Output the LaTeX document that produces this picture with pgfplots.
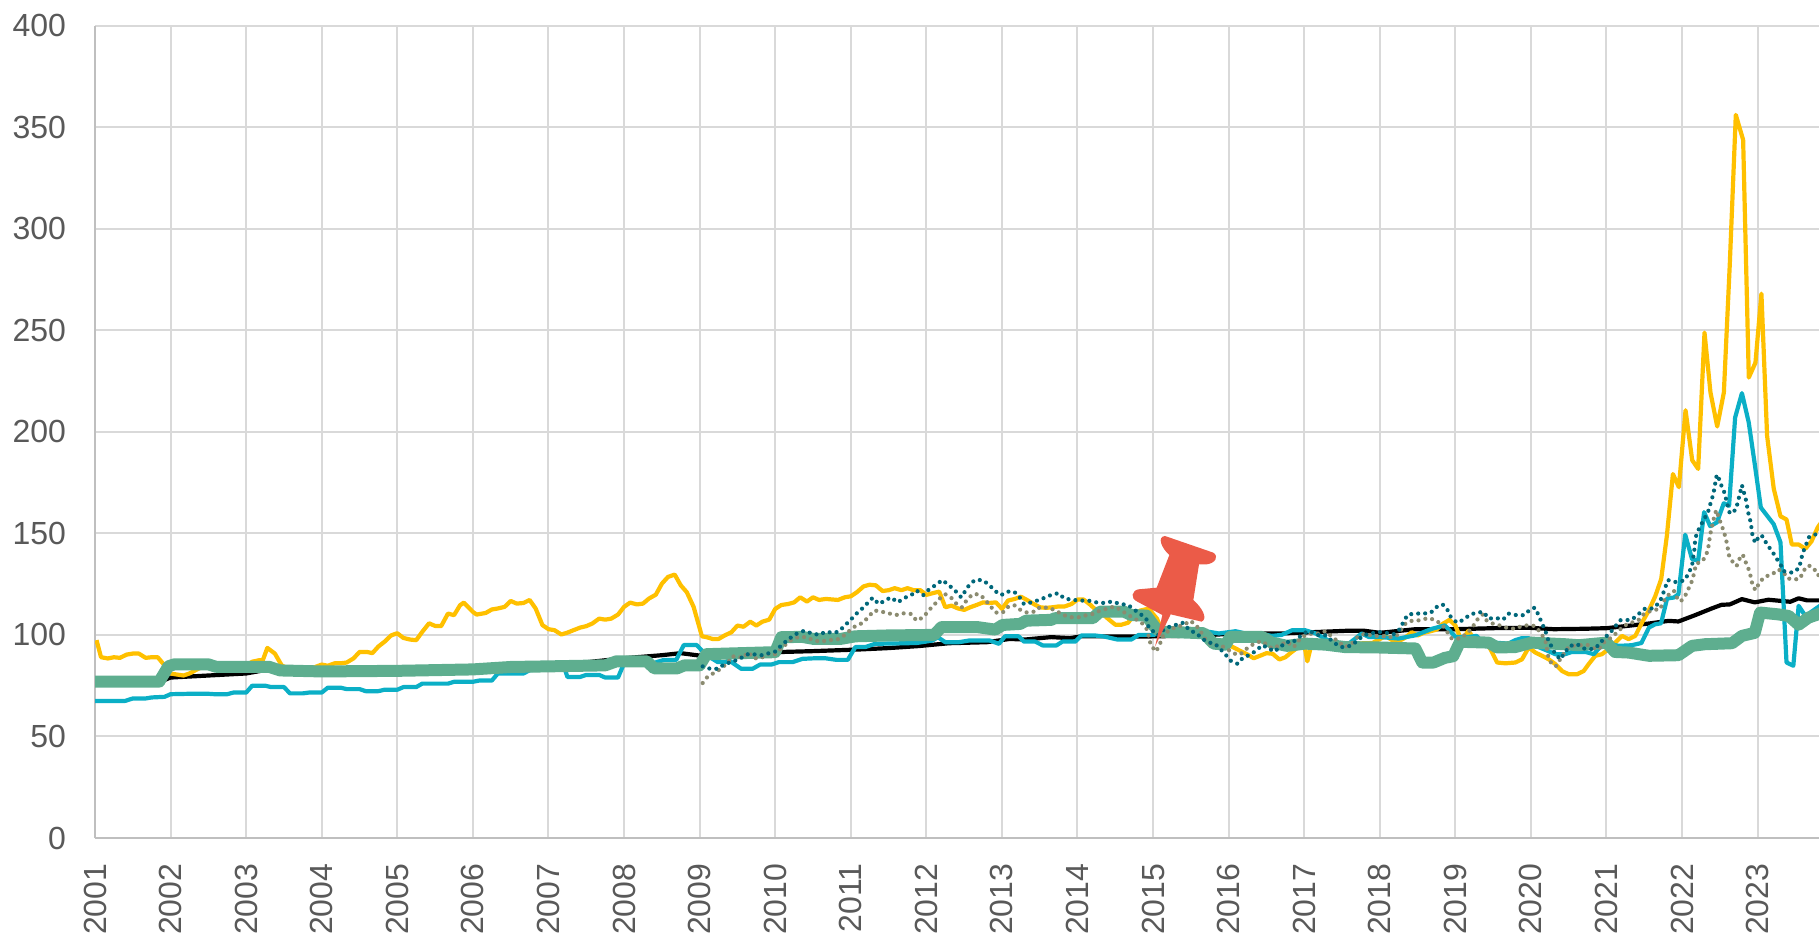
\documentclass[border=0pt]{standalone}
\usepackage{fontspec}
\setmainfont{Liberation Sans}
\usepackage{pgfplots}
\pgfplotsset{compat=1.18}
\definecolor{cyel}{HTML}{FFC000}
\definecolor{ccya}{HTML}{0BAFC6}
\definecolor{cgre}{HTML}{5EAE8F}
\definecolor{cdar}{HTML}{00677A}
\definecolor{cgry}{HTML}{8B8B70}
\definecolor{cgrid}{HTML}{D9D9D9}
\definecolor{caxis}{HTML}{BFBFBF}
\definecolor{ctxt}{HTML}{595959}
\definecolor{cpin}{HTML}{EB5B48}
\begin{document}
\begin{tikzpicture}
\path[use as bounding box] (0,0) rectangle (909.5pt,467pt);
\begin{axis}[
  at={(47.5pt,48pt)}, anchor=south west,
  scale only axis, width=862pt, height=406.25pt,
  xmin=2001, xmax=2023.81, ymin=0, ymax=400,
  xtick={2001,2002,...,2023}, ytick={0,50,...,400},
  grid=major, grid style={cgrid,line width=1pt},
  axis x line*=bottom, axis y line*=left,
  axis line style={-,caxis,line width=1pt},
  major tick length=0pt,
  tick label style={font=\fontsize{16}{19}\selectfont,text=ctxt},
  /pgf/number format/assume math mode=true,
  /pgf/number format/1000 sep={},
  xticklabel style={rotate=90,anchor=east,yshift=0pt,xshift=-9.3pt,/pgf/number format/fixed},
  yticklabel style={anchor=east,xshift=-11pt},
  every axis plot/.append style={line join=round,mark=none},
]
% black
\addplot[black,line width=2.1pt] coordinates {(2001,77)(2001.9,77.5)(2002,79)(2002.5,80)(2003,81)(2003.3,83)(2003.6,82.5)(2004,82)(2005,82.5)(2006,84)(2007,86)(2007.5,86.5)(2008,88.5)(2008.5,90)(2008.75,91)(2009,89.8)(2009.5,90.5)(2010,91.5)(2010.5,92)(2011.1,92.8)(2011.5,93.5)(2011.9,94.5)(2012.3,95.9)(2012.8,96.4)(2013.1,98)(2013.3,97.7)(2013.65,98.9)(2013.9,98.4)(2014.05,99.3)(2014.9,99.2)(2015.65,99.7)(2016,100.5)(2016.7,100.7)(2017.55,102)(2017.8,102)(2018,101)(2018.47,102.8)(2019,102.8)(2019.6,103.4)(2019.97,103.5)(2020.3,102.8)(2020.7,103)(2021.0,103.3)(2021.56,105.6)(2021.82,106.9)(2021.95,106.6)(2022.17,109.7)(2022.39,113)(2022.52,114.8)(2022.63,115)(2022.79,117.6)(2022.96,116)(2023.14,117.3)(2023.43,116.3)(2023.54,118)(2023.65,117)(2023.85,117)};
% yellow
\addplot[cyel,line width=2.1pt] coordinates {(2001.02,97.4)(2001.08,89)(2001.17,88.4)(2001.25,89)(2001.33,88.7)(2001.42,90.3)(2001.5,90.8)(2001.58,90.8)(2001.67,88.7)(2001.75,89)(2001.83,89)(2001.92,85)(2002,81)(2002.08,80.5)(2002.17,80)(2002.25,81)(2002.33,82.6)(2002.42,84.3)(2002.5,84)(2002.75,84)(2003,85)(2003.08,86.8)(2003.17,87.5)(2003.22,87.5)(2003.28,93.6)(2003.38,90.8)(2003.47,85)(2003.58,83)(2003.7,83)(2003.78,84)(2003.9,84)(2004,85.4)(2004.08,84.8)(2004.17,86)(2004.25,86)(2004.33,86.4)(2004.42,88.4)(2004.5,91.6)(2004.6,91.6)(2004.67,91)(2004.75,94.3)(2004.83,96.6)(2004.92,99.8)(2005,100.8)(2005.08,98.5)(2005.17,97.7)(2005.25,97.4)(2005.33,101.5)(2005.42,105.7)(2005.5,104.4)(2005.58,104.3)(2005.67,110.5)(2005.75,109.7)(2005.83,114.6)(2005.88,115.9)(2006,111.3)(2006.05,110)(2006.17,110.8)(2006.25,112.5)(2006.33,113)(2006.42,113.8)(2006.5,116.7)(2006.58,115.4)(2006.67,115.7)(2006.75,117.2)(2006.83,113)(2006.92,104.8)(2007,102.8)(2007.08,102.3)(2007.17,100.2)(2007.25,101.1)(2007.33,102.3)(2007.42,103.6)(2007.5,104.3)(2007.58,105.6)(2007.67,108)(2007.75,107.5)(2007.83,108)(2007.92,110)(2008,113.8)(2008.08,115.9)(2008.17,115)(2008.25,115.4)(2008.33,117.9)(2008.42,119.8)(2008.5,125.2)(2008.58,128.5)(2008.67,129.7)(2008.75,124.4)(2008.83,121)(2008.92,113.8)(2009.03,99.3)(2009.1,98.8)(2009.17,98)(2009.25,98)(2009.33,99.7)(2009.42,101.3)(2009.5,104.6)(2009.58,104)(2009.67,106.5)(2009.75,104.6)(2009.83,106.5)(2009.92,107.5)(2010,112.8)(2010.08,114.7)(2010.17,115.2)(2010.25,116)(2010.33,118.5)(2010.42,116.4)(2010.5,118.5)(2010.58,117.2)(2010.67,117.7)(2010.83,117.2)(2010.92,118.5)(2011,119)(2011.08,121)(2011.17,123.9)(2011.25,124.7)(2011.33,124.4)(2011.42,121.6)(2011.5,122)(2011.58,123)(2011.67,122)(2011.75,123)(2011.83,122)(2011.92,122)(2012,119.7)(2012.08,120.5)(2012.17,121.3)(2012.25,113.6)(2012.33,114.4)(2012.42,113)(2012.5,112.3)(2012.58,113.6)(2012.67,114.8)(2012.75,116)(2012.83,115.7)(2012.92,116)(2013,112.8)(2013.08,116.9)(2013.17,117.7)(2013.25,118.8)(2013.33,117.2)(2013.42,115.2)(2013.5,113.6)(2013.58,113.3)(2013.67,113.6)(2013.75,114)(2013.83,114)(2013.92,115.2)(2014,117.4)(2014.08,117.4)(2014.17,114.8)(2014.25,112)(2014.33,110.3)(2014.42,107.4)(2014.5,105)(2014.58,105)(2014.67,106)(2014.75,110)(2014.83,112)(2014.94,112.9)(2015.05,108)(2015.12,102)(2015.5,100.5)(2015.75,98)(2015.92,96)(2016,95)(2016.08,93.5)(2016.17,91.8)(2016.25,90.3)(2016.33,88.5)(2016.42,89.8)(2016.5,91)(2016.58,90.7)(2016.67,87.9)(2016.75,89)(2016.83,91.5)(2016.92,94)(2017,95)(2017.04,87)(2017.08,93)(2017.17,96.4)(2017.5,95.5)(2017.9,96)(2018,98)(2018.08,99.3)(2018.17,97.2)(2018.25,96.9)(2018.33,98.5)(2018.42,101.3)(2018.5,99.7)(2018.58,101)(2018.67,101.8)(2018.75,102.6)(2018.83,105.4)(2018.92,107.4)(2019,104.6)(2019.08,97)(2019.17,102)(2019.25,98)(2019.374,97)(2019.463,93)(2019.551,86.4)(2019.661,86)(2019.793,86.4)(2019.881,88)(2019.969,93.8)(2020.057,91.3)(2020.145,89.7)(2020.233,88)(2020.322,85.6)(2020.41,82.2)(2020.498,80.6)(2020.608,80.6)(2020.696,82.2)(2020.762,85.6)(2020.85,89.7)(2020.938,90.5)(2021.026,93)(2021.115,96.2)(2021.203,99.5)(2021.291,97.9)(2021.379,99.5)(2021.467,106)(2021.555,111.8)(2021.643,119)(2021.722,127.5)(2021.797,148.8)(2021.877,179.2)(2021.956,172.7)(2022.044,210.6)(2022.132,186)(2022.211,181.7)(2022.295,248.8)(2022.374,219.3)(2022.463,202.6)(2022.551,219.3)(2022.63,283)(2022.709,356)(2022.806,343.7)(2022.881,226.7)(2022.969,234)(2023.048,268)(2023.123,198)(2023.211,172)(2023.3,158.4)(2023.38,156.8)(2023.45,144.5)(2023.54,144.5)(2023.63,142.4)(2023.71,146)(2023.79,152.7)(2023.85,156)};
% cyan
\addplot[ccya,line width=2.1pt] coordinates {(2001,67.5)(2001.4,67.5)(2001.5,68.7)(2001.67,68.7)(2001.75,69.2)(2001.92,69.5)(2002,70.8)(2002.25,71)(2002.5,71)(2002.58,70.8)(2002.75,70.8)(2002.83,71.6)(2003,71.6)(2003.08,75)(2003.25,75)(2003.33,74.3)(2003.5,74.3)(2003.58,71.2)(2003.75,71.2)(2003.83,71.6)(2004,71.6)(2004.08,74)(2004.25,74)(2004.33,73.3)(2004.5,73.3)(2004.58,72.3)(2004.75,72.3)(2004.83,73)(2005,73)(2005.08,74.3)(2005.25,74.3)(2005.33,76)(2005.67,76)(2005.75,76.9)(2006,76.9)(2006.08,77.5)(2006.25,77.5)(2006.33,81)(2006.67,81)(2006.75,82.6)(2007,83.5)(2007.2,85)(2007.25,79.3)(2007.42,79.3)(2007.5,80.3)(2007.67,80.3)(2007.75,79)(2007.92,79)(2008,86)(2008.4,86)(2008.43,86.6)(2008.53,87.7)(2008.69,87.7)(2008.79,95)(2008.96,95)(2009.09,90)(2009.24,86.6)(2009.34,86.6)(2009.39,87.4)(2009.55,83.3)(2009.7,83.3)(2009.8,85.4)(2009.95,85.4)(2010.05,86.6)(2010.23,86.6)(2010.36,88.2)(2010.53,88.5)(2010.66,88.5)(2010.81,87.7)(2010.96,87.7)(2011.06,94)(2011.19,94)(2011.32,95.6)(2011.87,96)(2012.08,97.2)(2012.15,98.9)(2012.25,96.4)(2012.43,96.4)(2012.56,97.2)(2012.84,97.2)(2012.96,95.6)(2013.04,99.3)(2013.22,99.3)(2013.29,96.7)(2013.44,96.7)(2013.54,94.8)(2013.72,94.8)(2013.8,96.7)(2013.97,96.7)(2014.05,99.7)(2014.23,99.7)(2014.35,99.2)(2014.53,97.7)(2014.71,97.7)(2014.81,100)(2015.01,100)(2015.12,102)(2015.74,101.5)(2015.87,100.7)(2016.09,101.8)(2016.22,100.7)(2016.4,100.7)(2016.57,99.5)(2016.7,100)(2016.84,102.3)(2017.01,102.3)(2017.15,100.7)(2017.28,98)(2017.41,95.7)(2017.59,95.7)(2017.76,100.7)(2017.85,99)(2017.98,99)(2018.25,98.2)(2018.47,99.8)(2018.69,103)(2018.86,104.7)(2019,99)(2019.17,99)(2019.28,99.5)(2019.35,96.6)(2019.7,95.7)(2019.79,97.4)(2019.88,98.4)(2019.97,98.4)(2020.06,94.6)(2020.23,92)(2020.32,90.5)(2020.45,90.5)(2020.54,91.6)(2020.72,91.6)(2020.83,90.5)(2020.96,96)(2021.16,94.6)(2021.33,94.9)(2021.46,96)(2021.56,103.6)(2021.64,105.2)(2021.72,105.7)(2021.8,117.9)(2021.89,118.4)(2021.95,120)(2022.04,149.3)(2022.13,137.3)(2022.21,136.5)(2022.29,160.4)(2022.37,153.5)(2022.46,155.4)(2022.55,164.8)(2022.62,163.6)(2022.7,207)(2022.79,219)(2022.88,204.6)(2022.96,184)(2023.04,162.7)(2023.21,154.5)(2023.3,145.6)(2023.38,86.4)(2023.47,84.8)(2023.54,114.3)(2023.63,109.3)(2023.79,113.5)(2023.85,115)};
% green
\addplot[cgre,line width=6pt] coordinates {(2001,77)(2001.85,77)(2001.97,84.5)(2002.05,85.5)(2002.5,85.5)(2002.6,84.3)(2003.3,84.3)(2003.45,82.5)(2004,82)(2005,82.3)(2006,83)(2006.5,84.2)(2007,84.5)(2007.75,85)(2007.9,87)(2008.3,87)(2008.4,83.5)(2008.7,83.5)(2008.8,85)(2009,85)(2009.09,90.5)(2010,91.5)(2010.08,98.9)(2010.36,99)(2010.51,98)(2010.86,98)(2011.06,99.3)(2011.47,99.7)(2012.1,100)(2012.2,103.8)(2012.68,103.8)(2012.91,102.6)(2013.01,104.9)(2013.24,105.4)(2013.32,107)(2013.65,107.4)(2013.7,108.2)(2014.2,108.2)(2014.3,111.5)(2014.61,111.5)(2014.71,109.8)(2014.91,109.5)(2015.04,103)(2015.11,101.6)(2015.67,100.8)(2015.8,95.7)(2015.96,95.2)(2016.02,99)(2016.44,99)(2016.57,96.2)(2016.77,94.6)(2017.01,95.7)(2017.28,95.2)(2017.54,94)(2017.98,93.8)(2018.47,93.3)(2018.56,86.4)(2018.71,86.4)(2018.86,88.7)(2018.97,89.5)(2019.06,96.6)(2019.44,96.2)(2019.55,93.8)(2019.79,94)(2019.96,95.7)(2020.01,96.2)(2020.45,95.4)(2020.63,94.9)(2021,96.2)(2021.11,91.6)(2021.29,91.3)(2021.56,89.7)(2021.95,90)(2022.13,94.6)(2022.3,95.4)(2022.66,95.9)(2022.79,99.5)(2022.96,101)(2023.03,111)(2023.27,110.1)(2023.41,109.3)(2023.54,105)(2023.67,108.5)(2023.79,110)(2023.85,111)};
% grey dotted
\addplot[cgry,line width=2.1pt,line cap=round,dash pattern=on 0pt off 3.5pt] coordinates {(2009.04,76.3)(2009.1,79.2)(2009.19,81.3)(2009.28,83.3)(2009.38,86.6)(2009.42,89.4)(2009.51,89.4)(2009.57,88.5)(2009.64,91.5)(2009.72,88.5)(2009.81,88.5)(2009.9,90.7)(2009.98,90)(2010.1,94)(2010.2,97.2)(2010.3,98.9)(2010.41,98.9)(2010.51,97.2)(2010.61,96.7)(2010.71,97.5)(2010.81,97.5)(2010.91,99.7)(2011,102.6)(2011.07,104.6)(2011.16,105.9)(2011.24,109.2)(2011.31,112)(2011.39,111.6)(2011.5,110.6)(2011.6,109.8)(2011.7,110.6)(2011.8,110.3)(2011.87,107)(2011.96,108.7)(2012.03,112)(2012.1,114.7)(2012.18,118)(2012.25,120)(2012.33,118.2)(2012.4,115.2)(2012.47,113.6)(2012.53,116.9)(2012.61,120)(2012.7,120)(2012.77,117.7)(2012.85,114)(2012.92,111)(2013.01,111)(2013.07,113.6)(2013.16,114.7)(2013.24,112.4)(2013.33,111)(2013.44,111.5)(2013.5,113.6)(2013.62,113.3)(2013.71,112)(2013.81,109.8)(2013.91,108.7)(2014.02,108.7)(2014.13,109.8)(2014.2,110.3)(2014.3,112)(2014.4,113)(2014.49,114)(2014.58,112)(2014.67,109.8)(2014.76,107.9)(2014.85,105.9)(2014.92,102.6)(2014.97,94.8)(2015.04,91.8)(2015.09,95.6)(2015.14,100.5)(2015.29,103.8)(2015.41,104.9)(2015.49,107)(2015.57,104.7)(2015.64,101)(2015.69,97.9)(2015.78,94.9)(2015.89,94.9)(2015.98,93)(2016.07,90.8)(2016.15,90.3)(2016.23,93)(2016.32,95.3)(2016.42,96.9)(2016.51,95.3)(2016.57,93.3)(2016.66,94.6)(2016.77,96.6)(2016.86,94)(2016.93,97.4)(2017,99.5)(2017.1,100.7)(2017.19,100.7)(2017.28,101.8)(2017.37,99)(2017.44,96.9)(2017.54,94)(2017.63,95.7)(2017.72,99.5)(2017.81,100.7)(2017.9,99.5)(2018.03,99.5)(2018.11,98.7)(2018.22,99.5)(2018.34,105.6)(2018.42,106.9)(2018.53,107.2)(2018.64,108.3)(2018.74,107.2)(2018.83,104.7)(2018.89,101.5)(2018.95,98.2)(2019.06,98.2)(2019.15,100.7)(2019.22,103.4)(2019.28,107.2)(2019.36,110)(2019.41,107.2)(2019.49,105.6)(2019.58,104.7)(2019.67,103.6)(2019.78,103)(2019.88,104.4)(2019.96,104.7)(2020.05,104.4)(2020.13,101)(2020.19,97)(2020.23,88.9)(2020.28,85.2)(2020.33,84.7)(2020.39,88.3)(2020.48,93.3)(2020.53,94.6)(2020.65,94.9)(2020.75,95)(2020.85,93)(2020.9,93)(2020.96,96.2)(2021.05,98.4)(2021.15,101.5)(2021.22,104.4)(2021.33,106)(2021.42,107.2)(2021.49,110.2)(2021.61,112.3)(2021.71,112.6)(2021.74,116)(2021.82,119.7)(2021.89,121.7)(2021.93,118.4)(2021.98,116.4)(2022.05,120)(2022.09,123.3)(2022.14,127.4)(2022.16,131.4)(2022.19,135.2)(2022.25,135.8)(2022.3,138)(2022.34,141.7)(2022.37,149.4)(2022.42,157.6)(2022.45,161.4)(2022.51,155)(2022.55,151)(2022.58,147)(2022.6,143.2)(2022.62,139)(2022.67,135.8)(2022.72,133.9)(2022.76,137.6)(2022.8,139.6)(2022.84,135.8)(2022.88,132.2)(2022.91,128.2)(2022.93,124.5)(2022.97,122)(2023.02,125.7)(2023.09,128.6)(2023.19,129.8)(2023.27,132.2)(2023.34,131)(2023.39,127.8)(2023.49,127.3)(2023.56,127.7)(2023.6,131.4)(2023.67,134.2)(2023.74,133)(2023.79,129.3)(2023.85,130)};
% dark dotted
\addplot[cdar,line width=2.1pt,line cap=round,dash pattern=on 0pt off 3.5pt] coordinates {(2009.04,84.5)(2009.14,83.3)(2009.24,83.3)(2009.32,85.4)(2009.5,87.7)(2009.65,90.7)(2009.82,90)(2010,91.8)(2010.08,94.8)(2010.18,98)(2010.28,100.5)(2010.38,102)(2010.48,100.8)(2010.58,100)(2010.67,101.6)(2010.76,101)(2010.84,101.6)(2010.92,104.6)(2011,107.5)(2011.07,110.3)(2011.16,113.3)(2011.29,118.3)(2011.37,115.2)(2011.53,118.5)(2011.62,116)(2011.71,118.2)(2011.8,119.6)(2011.87,121.8)(2011.96,119.6)(2012.04,122.6)(2012.13,124.7)(2012.21,127)(2012.29,124.7)(2012.38,121.8)(2012.46,118.5)(2012.56,124.2)(2012.64,127)(2012.74,127)(2012.83,124.7)(2012.9,121.8)(2012.99,119.6)(2013.07,121.3)(2013.16,121.3)(2013.24,118.2)(2013.29,115.2)(2013.39,116)(2013.49,117.2)(2013.58,118.5)(2013.67,120)(2013.75,120.5)(2013.82,118)(2013.92,117.3)(2014.03,116.9)(2014.14,116.9)(2014.25,116)(2014.35,115.7)(2014.45,116.4)(2014.57,115.2)(2014.67,114.7)(2014.75,112.4)(2014.83,110.3)(2014.91,107.9)(2014.94,103.8)(2015.06,99.7)(2015.16,103.3)(2015.27,104.6)(2015.39,105.9)(2015.49,102)(2015.57,101)(2015.64,98.4)(2015.72,96.4)(2015.82,95.6)(2015.95,90.7)(2016.02,87.4)(2016.12,85.7)(2016.19,88.9)(2016.27,90)(2016.36,92.1)(2016.44,94.9)(2016.52,93.7)(2016.6,91.7)(2016.68,94)(2016.77,96.6)(2016.84,96.2)(2016.9,97.9)(2016.99,100.7)(2017.06,102)(2017.19,99.8)(2017.28,99.8)(2017.41,95.7)(2017.5,94)(2017.61,94.6)(2017.7,97)(2017.78,99.8)(2017.98,101.5)(2018.08,101)(2018.18,100.3)(2018.27,103)(2018.31,106.4)(2018.37,110)(2018.47,110.5)(2018.57,110.5)(2018.67,110.8)(2018.75,113.7)(2018.83,115)(2018.89,112.6)(2018.94,108.7)(2019.02,106)(2019.11,107.5)(2019.19,110)(2019.29,111)(2019.37,111.3)(2019.44,108)(2019.53,108.4)(2019.63,107.5)(2019.7,110.5)(2019.81,109.7)(2019.91,109.7)(2019.99,112.6)(2020.05,113.4)(2020.1,109.7)(2020.145,105.6)(2020.19,102)(2020.22,98.2)(2020.27,94.3)(2020.32,90.5)(2020.39,88)(2020.45,91.6)(2020.52,94.6)(2020.61,95.4)(2020.7,93.3)(2020.81,93)(2020.9,95)(2020.96,98.2)(2021.04,100.7)(2021.11,104)(2021.18,107.2)(2021.26,107.2)(2021.34,107.7)(2021.43,110.5)(2021.51,113)(2021.61,113)(2021.7,116)(2021.74,119.6)(2021.81,127)(2021.9,126)(2021.99,126.5)(2022.03,126.8)(2022.08,130)(2022.13,134)(2022.16,141.7)(2022.17,146)(2022.19,149.8)(2022.25,154.3)(2022.3,157.6)(2022.35,161.4)(2022.38,165.5)(2022.41,169)(2022.43,173)(2022.45,177.7)(2022.47,178.9)(2022.5,175)(2022.55,171)(2022.58,166.9)(2022.63,159.7)(2022.71,161.6)(2022.74,166)(2022.79,173.7)(2022.81,171)(2022.84,167)(2022.88,159)(2022.91,155)(2022.92,151)(2022.94,147.5)(2022.97,145.3)(2023.02,149)(2023.07,148.4)(2023.12,144.5)(2023.19,141.2)(2023.24,138)(2023.3,134.7)(2023.34,131.4)(2023.46,130.6)(2023.55,133)(2023.57,136.8)(2023.6,140.8)(2023.68,148.3)(2023.76,149.4)(2023.85,152)};
\end{axis}
% push-pin annotation
\begin{scope}[shift={(525pt,207pt)},x=0.16667pt,y=-0.16667pt]
\fill[cpin] (315,380) -- (337,285) -- (262,245) .. controls (240,235) and (245,212) .. (265,208) -- (320,203) -- (358,105)
 .. controls (335,85) and (320,50) .. (345,48) -- (490,98) .. controls (508,110) and (495,130) .. (470,133) -- (447,133) -- (430,240)
 .. controls (455,262) and (475,295) .. (455,305) -- (362,283) -- cycle;
\end{scope}
\end{tikzpicture}
\end{document}
